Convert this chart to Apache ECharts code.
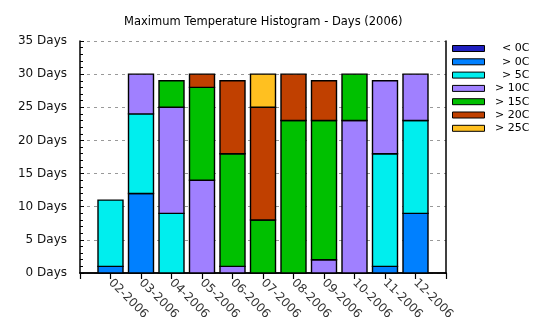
<!DOCTYPE html>
<html><head><meta charset="utf-8">
<script src="https://cdn.jsdelivr.net/npm/echarts@6/dist/echarts.min.js"></script>
<style>html,body{margin:0;padding:0;background:#fff}#c{width:540px;height:330px}</style>
</head><body><div id="c"></div>
<script>
var months = ['02-2006','03-2006','04-2006','05-2006','06-2006','07-2006','08-2006','09-2006','10-2006','11-2006','12-2006'];
var seriesNames = ['< 0C','> 0C','> 5C','> 10C','> 15C','> 20C','> 25C'];
var below0 = [0,0,0,0,0,0,0,0,0,0,0];
var above0 = [1,12,0,0,0,0,0,0,0,1,9];
var above5 = [10,12,9,0,0,0,0,0,0,17,14];
var above10 = [0,6,16,14,1,0,0,2,23,11,7];
var above15 = [0,0,4,14,17,8,23,21,7,0,0];
var above20 = [0,0,0,2,11,17,7,6,0,0,0];
var above25 = [0,0,0,0,0,5,0,0,0,0,0];
var yTicks = [0,5,10,15,20,25,30,35];
var colors = ['#2020c0','#0080ff','#00eeee','#a080ff','#00c000','#c04000','#ffc020'];

var cats = [''].concat(months, ['']);
var allData = [below0, above0, above5, above10, above15, above20, above25];
var font = 'DejaVu Sans';
var BAR_W = 25;

// stacked segments: [categoryIndex, base, top]
var running = months.map(function(){ return 0; });
var series = allData.map(function(d, si){
  var segs = [];
  d.forEach(function(v, mi){
    var base = running[mi];
    running[mi] = base + v;
    if (v > 0) segs.push([mi + 1, base, base + v]);
  });
  var col = colors[si];
  return {
    name: seriesNames[si], type: 'custom', xAxisIndex: 0, yAxisIndex: 0,
    itemStyle: {color: col, borderColor: '#000', borderWidth: 1},
    encode: {x: 0, y: [1, 2]},
    data: segs,
    renderItem: function(params, api){
      var x = api.value(0);
      var pTop = api.coord([x, api.value(2)]);
      var pBot = api.coord([x, api.value(1)]);
      return {type: 'rect',
        shape: {x: pTop[0] - BAR_W / 2, y: pTop[1], width: BAR_W, height: pBot[1] - pTop[1]},
        style: {fill: col, stroke: '#000', lineWidth: 1.4}};
    },
    emphasis: {disabled: true}
  };
});
var chart = echarts.init(document.getElementById('c'), null, {renderer: 'canvas'});
chart.setOption({
  animation: false,
  title: {text: 'Maximum Temperature Histogram - Days (2006)', left: 119, top: 11,
    textStyle: {fontFamily: font, fontSize: 11.5, fontWeight: 'normal', color: '#000'}},
  grid: {left: 80, right: 94, top: 41, bottom: 57, containLabel: false},
  legend: {
    orient: 'vertical', left: 452, top: 42, padding: 0, itemWidth: 32, itemHeight: 6, itemGap: 0.3,
    icon: 'rect', data: seriesNames,
    itemStyle: {borderColor: '#000', borderWidth: 1},
    formatter: function(n){ return '{a|' + n + '}'; },
    textStyle: {fontFamily: font, fontSize: 11, color: '#000', lineHeight: 13,
      rich: {a: {width: 40, align: 'right', fontFamily: font, fontSize: 11, color: '#000', lineHeight: 13}}}
  },
  xAxis: [
    {type: 'category', data: cats, boundaryGap: false, position: 'bottom',
      axisLine: {lineStyle: {color: '#000', width: 1.5}},
      axisTick: {show: false},
      axisLabel: {interval: 0, rotate: -45, margin: 8, fontFamily: font, fontSize: 12, color: '#333'},
      splitLine: {show: false}},
    {type: 'category', data: cats, boundaryGap: false, position: 'top',
      axisLine: {lineStyle: {color: '#000', width: 1.5}},
      axisTick: {show: true, inside: true, length: 6, interval: 0, lineStyle: {color: '#000', width: 1.2}},
      axisLabel: {show: false}, splitLine: {show: false}}
  ],
  yAxis: [
    {type: 'value', min: yTicks[0], max: yTicks[yTicks.length-1], interval: 5, position: 'left',
      axisLine: {show: true, lineStyle: {color: '#000', width: 1.5}},
      axisTick: {show: true, inside: true, length: 4, lineStyle: {color: '#000'}},
      minorTick: {show: true, splitNumber: 5, length: 3, lineStyle: {color: '#000'}},
      axisLabel: {formatter: '{value} Days', margin: 13, fontFamily: font, fontSize: 12, color: '#111'},
      splitLine: {show: true, lineStyle: {color: '#999', type: [3, 4], width: 1}}},
    {type: 'value', min: 0, max: 35, interval: 5, position: 'right',
      axisLine: {show: true, lineStyle: {color: '#000', width: 1.5}},
      axisTick: {show: false}, minorTick: {show: false}, axisLabel: {show: false}, splitLine: {show: false}}
  ],
  series: series
});
</script></body></html>
